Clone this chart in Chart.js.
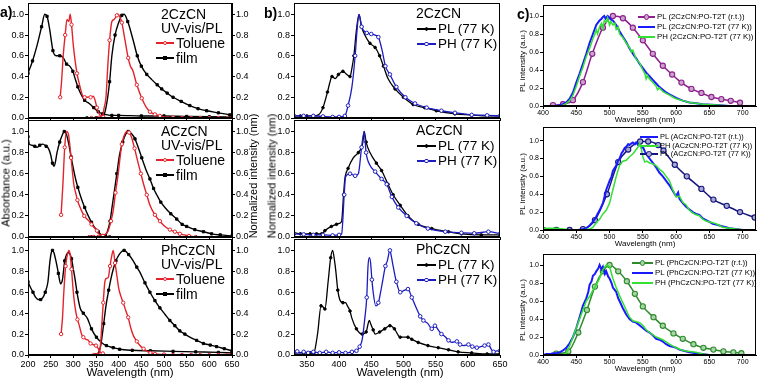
<!DOCTYPE html>
<html><head><meta charset="utf-8">
<script src="https://cdn.jsdelivr.net/npm/chart.js@4/dist/chart.umd.min.js"></script>
<style>
body{margin:0;width:760px;height:380px;position:relative;background:#fff;overflow:hidden;font-family:"Liberation Sans",Arial,sans-serif}
canvas{position:absolute}
.t{position:absolute;white-space:nowrap;color:#000;line-height:1}
.s{position:absolute}
</style></head><body>
<script>
// ---------- tick labels ----------
const X_TICKS_A = [200,250,300,350,400,450,500,550,600,650];
const X_TICKS_B = [350,400,450,500,550,600,650];
const X_TICKS_C = [400,450,500,550,600,650,700];
const Y_TICKS = [0,0.2,0.4,0.6,0.8,1.0];
const COMPOUNDS = ['2CzCN','ACzCN','PhCzCN'];

// ---------- panel a: UV-vis / PL (wavelength nm, normalized) ----------
const A_TOL_ABS_2CZ = [[271,0.2],[274,0.35],[278,0.62],[282,0.8],[286,0.95],[290,0.93],[293,1.0],[296,0.9],[300,0.7],[304,0.55],[308,0.43],[312,0.35],[316,0.28],[320,0.22],[325,0.2],[332,0.2],[338,0.2],[344,0.21],[348,0.17],[352,0.1],[356,0.05],[360,0.02],[366,0.01],[372,0.0]];
const A_TOL_PL_2CZ = [[340,0],[355,0],[364,0.01],[368,0.1],[372,0.2],[376,0.5],[380,0.75],[385,0.93],[390,0.95],[396,0.99],[399,1.0],[403,0.97],[407,0.92],[414,0.75],[421,0.58],[426,0.5],[431,0.46],[440,0.32],[451,0.19],[460,0.11],[469,0.06],[480,0.035],[491,0.02],[500,0.01],[520,0.005],[540,0],[560,0],[580,0],[600,0],[620,0],[640,0],[650,0]];
const A_FILM_ABS_2CZ = [[200,0.43],[210,0.55],[220,0.7],[230,0.88],[237,1.0],[242,0.98],[248,0.85],[255,0.65],[262,0.6],[270,0.6],[278,0.58],[285,0.52],[292,0.5],[299,0.45],[304,0.38],[310,0.3],[318,0.22],[325,0.17],[335,0.14],[345,0.1],[355,0.06],[365,0.04],[375,0.03],[385,0.025],[400,0.025],[450,0.02],[500,0.02],[550,0.015],[600,0.012],[650,0.01]];
const A_FILM_PL_2CZ = [[330,0],[350,0],[365,0.01],[372,0.1],[380,0.35],[385,0.6],[392,0.8],[400,0.92],[407,0.99],[412,1.0],[420,0.93],[432,0.75],[441,0.6],[450,0.5],[462,0.42],[473,0.37],[485,0.32],[495,0.28],[507,0.24],[520,0.2],[538,0.16],[557,0.12],[575,0.09],[594,0.07],[620,0.05],[645,0.03],[650,0.025]];

const A_TOL_ABS_AC = [[273,0.21],[277,0.5],[281,0.85],[285,1.0],[289,0.98],[292,0.88],[295,0.75],[298,0.62],[301,0.5],[305,0.42],[309,0.35],[313,0.3],[318,0.25],[324,0.2],[330,0.17],[335,0.15],[340,0.12],[346,0.09],[352,0.06],[356,0.03],[360,0.02],[365,0.01],[372,0.0]];
const A_TOL_PL_AC = [[335,0],[345,0],[355,0],[365,0.01],[372,0.03],[377,0.06],[383,0.15],[388,0.25],[393,0.42],[399,0.6],[403,0.75],[407,0.88],[412,0.96],[418,1.0],[423,0.99],[428,0.95],[435,0.84],[443,0.7],[449,0.6],[455,0.5],[462,0.4],[469,0.3],[480,0.21],[491,0.15],[502,0.1],[513,0.07],[524,0.05],[535,0.03],[545,0.02],[555,0.01],[570,0.0]];
const A_FILM_ABS_AC = [[200,0.95],[203,0.88],[208,0.87],[215,0.86],[220,0.85],[226,0.87],[233,0.88],[240,0.86],[245,0.84],[250,0.78],[254,0.7],[257,0.67],[260,0.7],[264,0.8],[270,0.9],[275,0.96],[280,1.0],[285,0.97],[290,0.88],[295,0.76],[300,0.65],[305,0.55],[310,0.47],[318,0.36],[325,0.28],[333,0.2],[340,0.14],[347,0.09],[355,0.05],[362,0.02],[370,0.01],[380,0.0]];
const A_FILM_PL_AC = [[340,0],[360,0],[370,0.01],[375,0.05],[381,0.15],[386,0.3],[391,0.45],[396,0.6],[402,0.78],[409,0.9],[415,0.97],[421,1.0],[428,0.98],[436,0.93],[443,0.85],[451,0.75],[460,0.64],[469,0.55],[477,0.46],[484,0.4],[493,0.33],[502,0.28],[515,0.22],[528,0.17],[540,0.12],[550,0.1],[568,0.07],[587,0.05],[605,0.03],[624,0.02],[650,0.01]];

const A_TOL_ABS_PH = [[273,0.2],[276,0.35],[279,0.6],[283,0.85],[287,0.96],[290,1.0],[293,0.96],[296,0.82],[300,0.6],[304,0.45],[309,0.34],[312,0.3],[315,0.25],[318,0.2],[322,0.17],[328,0.15],[333,0.14],[338,0.11],[344,0.1],[350,0.09],[355,0.06],[359,0.03],[365,0.015],[372,0.0]];
const A_TOL_PL_PH = [[345,0],[352,0],[357,0.02],[360,0.1],[363,0.3],[366,0.5],[369,0.68],[372,0.73],[377,0.74],[381,0.85],[384,0.93],[388,1.0],[392,0.88],[396,0.76],[400,0.64],[405,0.56],[410,0.5],[416,0.42],[421,0.36],[426,0.27],[432,0.19],[440,0.13],[447,0.09],[455,0.06],[461,0.04],[470,0.02],[480,0.01],[500,0.005],[520,0],[540,0],[560,0],[580,0],[600,0],[620,0],[640,0],[650,0]];
const A_FILM_ABS_PH = [[200,0.7],[205,0.65],[211,0.6],[217,0.55],[222,0.53],[228,0.53],[233,0.55],[238,0.6],[244,0.7],[248,0.88],[251,0.97],[254,1.0],[257,0.98],[260,0.93],[264,0.85],[267,0.78],[272,0.68],[276,0.72],[281,0.9],[285,0.96],[289,0.98],[293,0.96],[296,0.92],[300,0.82],[304,0.72],[308,0.6],[315,0.45],[322,0.4],[331,0.35],[340,0.25],[351,0.17],[362,0.12],[373,0.09],[388,0.07],[402,0.055],[430,0.045],[470,0.04],[520,0.035],[570,0.03],[620,0.025],[650,0.02]];
const A_FILM_PL_PH = [[350,0],[355,0.02],[360,0.08],[367,0.3],[372,0.47],[378,0.62],[383,0.73],[388,0.82],[394,0.9],[401,0.96],[412,1.0],[422,0.96],[432,0.9],[440,0.84],[447,0.79],[458,0.69],[469,0.6],[480,0.52],[491,0.45],[502,0.39],[513,0.33],[524,0.28],[535,0.23],[546,0.2],[557,0.17],[572,0.14],[587,0.11],[602,0.095],[616,0.08],[633,0.06],[650,0.04]];

// ---------- panel b: 77 K PL / PH ----------
const B_PL_2CZ = [[330,0.02],[340,0.02],[350,0.02],[360,0.02],[368,0.03],[375,0.1],[382,0.25],[386,0.35],[389,0.4],[394,0.38],[399,0.42],[406,0.45],[412,0.42],[417,0.4],[420,0.48],[423,0.6],[427,0.85],[431,1.0],[435,0.88],[440,0.8],[448,0.72],[456,0.68],[463,0.6],[469,0.5],[476,0.38],[487,0.28],[500,0.2],[515,0.13],[533,0.1],[551,0.07],[580,0.04],[606,0.03],[630,0.02],[650,0.02]];
const B_PH_2CZ = [[330,0.02],[345,0.02],[360,0.02],[375,0.015],[390,0.01],[400,0.01],[409,0.02],[414,0.12],[420,0.3],[425,0.6],[428,0.85],[431,1.0],[435,0.88],[443,0.82],[450,0.81],[456,0.8],[461,0.78],[467,0.65],[472,0.5],[479,0.42],[489,0.3],[503,0.2],[518,0.14],[536,0.1],[559,0.07],[580,0.05],[606,0.03],[630,0.025],[650,0.02]];
const B_PL_AC = [[330,0.04],[340,0.03],[355,0.03],[365,0.03],[373,0.03],[378,0.06],[388,0.1],[396,0.12],[401,0.13],[404,0.15],[407,0.4],[409,0.55],[414,0.65],[422,0.75],[430,0.8],[435,0.85],[437,0.9],[439,1.0],[442,0.9],[448,0.8],[458,0.7],[466,0.63],[476,0.5],[484,0.4],[495,0.3],[507,0.2],[523,0.12],[544,0.08],[570,0.05],[590,0.03],[621,0.02],[650,0.02]];
const B_PH_AC = [[330,0.03],[345,0.025],[360,0.02],[375,0.02],[390,0.015],[400,0.02],[404,0.03],[408,0.4],[410,0.57],[417,0.6],[425,0.58],[430,0.6],[435,0.85],[439,1.0],[442,0.8],[448,0.68],[456,0.62],[466,0.55],[474,0.5],[482,0.38],[492,0.28],[505,0.2],[520,0.13],[538,0.08],[565,0.05],[590,0.04],[610,0.035],[632,0.05],[650,0.03]];
const B_PL_PH = [[330,0.02],[345,0.02],[355,0.02],[361,0.02],[364,0.1],[367,0.22],[372,0.47],[375,0.46],[378,0.44],[383,0.7],[387,0.93],[390,1.0],[393,0.9],[395,0.8],[398,0.62],[401,0.53],[406,0.5],[410,0.5],[413,0.47],[417,0.42],[420,0.35],[427,0.25],[436,0.2],[442,0.22],[447,0.33],[449,0.3],[453,0.24],[456,0.2],[463,0.22],[471,0.25],[479,0.28],[486,0.25],[495,0.17],[507,0.17],[513,0.15],[523,0.12],[538,0.09],[554,0.07],[570,0.05],[585,0.03],[606,0.02],[630,0.01],[650,0.01]];
const B_PH_PH = [[330,0.02],[335,0.035],[340,0.02],[345,0.03],[352,0.02],[360,0.03],[370,0.02],[380,0.03],[390,0.02],[400,0.025],[410,0.02],[420,0.03],[427,0.04],[432,0.08],[436,0.15],[440,0.35],[443,0.55],[445,0.85],[447,0.93],[449,0.88],[451,0.72],[453,0.6],[457,0.47],[461,0.5],[466,0.65],[472,0.85],[475,0.9],[479,1.0],[481,0.95],[484,0.85],[489,0.7],[495,0.6],[502,0.62],[507,0.63],[513,0.55],[520,0.45],[526,0.37],[531,0.33],[538,0.3],[544,0.25],[549,0.28],[554,0.24],[559,0.2],[564,0.18],[570,0.14],[575,0.12],[583,0.13],[588,0.1],[593,0.09],[601,0.1],[607,0.08],[614,0.07],[620,0.08],[626,0.09],[632,0.1],[636,0.06],[640,0.03],[645,0.04],[650,0.04]];

// ---------- panel c: PO-T2T blends ----------
const C_RT_2CZ = [[415,0.01],[430,0.02],[445,0.065],[460,0.265],[474,0.58],[490,0.87],[505,1.0],[520,0.975],[535,0.87],[550,0.73],[565,0.58],[580,0.447],[594,0.35],[608,0.26],[623,0.19],[638,0.145],[653,0.1],[668,0.076],[682,0.058],[696,0.036]];
const C_PL77_2CZ = [[420,0.0],[425,0.01],[430,0.02],[435,0.04],[440,0.08],[445,0.15],[450,0.26],[455,0.36],[460,0.47],[465,0.58],[470,0.7],[475,0.8],[480,0.9],[485,0.95],[488,0.97],[490,0.99],[492,1.0],[494,0.97],[497,1.0],[500,0.98],[502,0.96],[505,0.95],[510,0.9],[515,0.83],[520,0.77],[525,0.71],[530,0.64],[535,0.58],[540,0.53],[545,0.47],[550,0.42],[555,0.37],[560,0.33],[565,0.29],[570,0.25],[575,0.21],[580,0.18],[585,0.15],[590,0.13],[595,0.11],[600,0.09],[610,0.06],[620,0.04],[630,0.03],[640,0.02],[660,0.01],[680,0.0],[700,0.0]];
const C_PH77_2CZ = [[425,0.0],[430,0.01],[435,0.03],[440,0.06],[445,0.12],[450,0.22],[455,0.33],[460,0.43],[465,0.55],[470,0.64],[475,0.75],[478,0.8],[480,0.85],[482,0.8],[485,0.88],[488,0.92],[490,0.86],[492,0.95],[495,0.93],[497,0.98],[500,0.9],[502,0.94],[505,0.9],[508,0.92],[510,0.85],[513,0.88],[515,0.8],[520,0.76],[525,0.7],[530,0.65],[533,0.6],[535,0.62],[540,0.52],[545,0.48],[548,0.43],[550,0.4],[553,0.36],[555,0.3],[557,0.34],[560,0.3],[565,0.26],[570,0.22],[572,0.18],[575,0.2],[580,0.16],[585,0.14],[590,0.12],[595,0.1],[600,0.08],[610,0.06],[620,0.04],[630,0.03],[640,0.02],[660,0.01],[680,0.0]];

const C_BLUE_AC = [[440,0.0],[455,0.0],[460,0.01],[465,0.02],[470,0.05],[475,0.09],[480,0.15],[485,0.22],[490,0.3],[495,0.45],[500,0.55],[503,0.6],[505,0.66],[510,0.72],[513,0.78],[515,0.8],[518,0.86],[520,0.88],[523,0.92],[525,0.93],[528,0.96],[530,0.95],[533,0.97],[535,0.98],[538,0.96],[540,0.98],[543,0.95],[545,0.96],[548,0.92],[550,0.93],[553,0.88],[555,0.85],[558,0.82],[560,0.8],[565,0.75],[570,0.7],[575,0.64],[580,0.6],[585,0.55],[590,0.5],[595,0.44],[598,0.4],[600,0.38],[603,0.42],[605,0.35],[610,0.3],[615,0.26],[620,0.23],[625,0.2],[630,0.18],[635,0.17],[640,0.13],[645,0.11],[650,0.09],[655,0.07],[660,0.06],[665,0.05],[670,0.04],[675,0.03],[680,0.02],[690,0.01],[700,0.0]];
const C_GREEN_AC = [[400,0.02],[410,0.02],[420,0.02],[430,0.01],[440,0.0],[460,0.0],[470,0.01],[475,0.03],[480,0.08],[485,0.12],[490,0.18],[495,0.22],[500,0.3],[505,0.45],[510,0.6],[515,0.72],[520,0.77],[525,0.78],[530,0.82],[535,0.85],[540,0.9],[543,0.93],[545,0.97],[548,0.9],[550,0.82],[553,0.76],[556,0.77],[560,0.75],[565,0.74],[570,0.72],[575,0.68],[580,0.65],[585,0.6],[590,0.55],[595,0.45],[600,0.37],[605,0.38],[610,0.31],[615,0.28],[620,0.22],[625,0.19],[630,0.17],[635,0.16],[640,0.12],[645,0.1],[650,0.09],[655,0.08],[660,0.07],[665,0.05],[670,0.03],[680,0.02],[690,0.01],[700,0.0]];
const C_NAVY_AC = [[400,0.0],[420,0.0],[440,0.0],[460,0.01],[478,0.11],[496,0.4],[513,0.76],[528,0.9],[546,0.99],[558,0.99],[573,0.95],[581,0.89],[598,0.73],[616,0.6],[638,0.46],[656,0.34],[676,0.27],[696,0.2],[718,0.14]];

const C_RT_PH = [[420,0.015],[438,0.04],[453,0.25],[466,0.5],[478,0.76],[490,0.93],[500,1.0],[513,0.93],[526,0.82],[538,0.68],[550,0.54],[566,0.42],[580,0.325],[596,0.24],[610,0.18],[626,0.12],[641,0.08],[656,0.06],[671,0.04],[686,0.03],[698,0.02]];
const C_BLUE_PH = [[400,0.0],[405,0.01],[410,0.01],[415,0.02],[420,0.02],[425,0.03],[430,0.05],[435,0.08],[440,0.13],[445,0.2],[450,0.3],[455,0.42],[460,0.55],[465,0.63],[468,0.7],[470,0.78],[473,0.82],[475,0.88],[478,0.9],[480,0.93],[483,0.96],[485,1.0],[488,0.95],[490,0.98],[493,0.9],[495,0.93],[498,0.87],[500,0.85],[503,0.8],[505,0.75],[508,0.72],[510,0.7],[513,0.63],[515,0.6],[520,0.52],[525,0.45],[530,0.4],[535,0.37],[540,0.36],[545,0.33],[550,0.3],[555,0.27],[560,0.25],[565,0.22],[570,0.18],[575,0.17],[580,0.15],[585,0.12],[590,0.1],[595,0.09],[600,0.08],[605,0.06],[610,0.05],[620,0.03],[630,0.02],[640,0.01],[650,0.0]];
const C_GREEN_PH = [[430,0.0],[435,0.02],[440,0.1],[445,0.2],[450,0.3],[455,0.4],[460,0.5],[465,0.6],[470,0.65],[475,0.72],[480,0.78],[485,0.85],[490,0.95],[495,1.0],[500,0.98],[505,0.85],[510,0.75],[515,0.66],[520,0.58],[525,0.5],[530,0.42],[535,0.38],[540,0.37],[545,0.36],[550,0.33],[555,0.28],[560,0.25],[570,0.2],[580,0.17],[590,0.12],[600,0.08],[610,0.05],[620,0.04],[630,0.03],[640,0.01],[650,0.0]];

// ---------- styling / helpers ----------
const FONT = '"Liberation Sans", Arial, sans-serif';
const RED = '#e3232b', BLUE_B = '#1c1cc0', PURPLE = '#8e1f8e', NAVY = '#16167e', DGREEN = '#2e8b2e', BLUE_C = '#1a1aff', LIME = '#33e033';

const framePlugin = {id:'frame', afterDraw(ch){const a=ch.chartArea, x=ch.ctx; x.save(); x.strokeStyle='#000'; x.lineWidth=1;
  x.strokeRect(Math.round(a.left)+0.5, Math.round(a.top)+0.5, Math.round(a.right-a.left)-1, Math.round(a.bottom-a.top)-1); x.restore();}};

function pts(a){return a.map(p=>({x:p[0],y:p[1]}));}
function radiusFn(m){
  return ctx=>{
    if(!m) return 0;
    if(!m.step || ctx.dataIndex===undefined) return m.r;
    const d=ctx.dataset.data, i=ctx.dataIndex;
    if(i===0) return m.r;
    return Math.floor(d[i].x/m.step)!==Math.floor(d[i-1].x/m.step) ? m.r : 0;
  };
}
function ds(arr,color,lw,m,extra){
  return Object.assign({data:pts(arr),borderColor:color,borderWidth:lw,fill:false,
    cubicInterpolationMode:'monotone',
    pointStyle:m?m.style:'circle',pointRadius:radiusFn(m),pointHoverRadius:0,
    pointBackgroundColor:m?m.fill:color,pointBorderColor:color,pointBorderWidth:m?(m.bw||1):0},extra||{});
}
function axis(ticks,fs,show,fmt,pad){
  return {type:'linear',
    afterBuildTicks:s=>{s.ticks=ticks.map(v=>({value:v}));},
    grid:{drawOnChartArea:false,drawTicks:true,tickLength:3,color:'#000',lineWidth:1},
    border:{display:true,color:'#000',width:1},
    ticks:{display:show,font:{family:FONT,size:fs},color:'#000',padding:pad,maxRotation:0,autoSkip:false,callback:fmt}};
}
function makeChart(o){
  const c=document.createElement('canvas');
  const W=o.R-o.L+o.ml+o.mr, H=o.B-o.T+o.mt+o.mb;
  c.width=W; c.height=H;
  c.style.left=(o.L-o.ml)+'px'; c.style.top=(o.T-o.mt)+'px'; c.style.width=W+'px'; c.style.height=H+'px';
  document.body.appendChild(c);
  const yf=v=>v.toFixed(1), xf=v=>String(v);
  const scales={
    x:Object.assign(axis(o.xt,o.fs,o.xl,xf,o.xpad),{min:o.xmin,max:o.xmax,afterFit:s=>{s.height=o.mb;}}),
    y:Object.assign(axis(Y_TICKS,o.fs,true,yf,1),{min:0,max:o.ymax,afterFit:s=>{s.width=o.ml;}})
  };
  if(o.right){scales.y2=Object.assign(axis(Y_TICKS,o.fs,true,yf,1),{position:'right',min:0,max:o.ymax,afterFit:s=>{s.width=o.mr;}});}
  new Chart(c,{type:'line',data:{datasets:o.ds},
    options:{responsive:false,animation:false,events:[],devicePixelRatio:1,
      layout:{padding:{left:0,top:o.mt,right:o.right?0:o.mr,bottom:0}},
      plugins:{legend:{display:false},tooltip:{enabled:false}},scales},
    plugins:[framePlugin]});
}
function txt(s,x,yc,size,extra){
  const d=document.createElement('div'); d.className='t'; d.textContent=s;
  d.style.fontSize=size+'px'; d.style.left=x+'px'; d.style.top=(yc-0.49*size)+'px';
  if(extra) Object.assign(d.style,extra);
  document.body.appendChild(d); return d;
}
function ctxt(s,xc,yc,size){
  const d=txt(s,xc,yc,size); d.style.top=yc+'px'; d.style.transform='translate(-50%,-50%)'; return d;
}
function vtxt(s,xc,yc,size){
  const d=txt(s,xc,yc,size); d.style.top=yc+'px'; d.style.transform='translate(-50%,-50%) rotate(-90deg)'; return d;
}
function sample(x1,x2,yc,color,lw,m){
  const l=document.createElement('div'); l.className='s';
  Object.assign(l.style,{left:x1+'px',top:(yc-lw/2)+'px',width:(x2-x1)+'px',height:lw+'px',background:color});
  document.body.appendChild(l);
  if(m){
    const k=document.createElement('div'); k.className='s'; const r=m.r;
    Object.assign(k.style,{left:((x1+x2)/2-r-0.5)+'px',top:(yc-r-0.5)+'px',width:(2*r+1)+'px',height:(2*r+1)+'px',
      background:m.fill,border:'1px solid '+color,borderRadius:m.style==='rect'?'0':'50%',boxSizing:'border-box'});
    document.body.appendChild(k);
  }
}

// markers
const M_TOL = {style:'circle',r:1.7,fill:'#fff',step:14};
const M_FILM = {style:'rect',r:1.6,fill:'#000',step:14};
const M_BPL = {style:'circle',r:1.3,fill:'#000',step:9};
const M_BPH = {style:'circle',r:1.8,fill:'#fff',step:9};
const M_RT2 = {style:'circle',r:2.6,fill:'#c9a3c9',bw:1.1};
const M_RTA = {style:'circle',r:2.6,fill:'#a6a8cf',bw:1.1};
const M_RTP = {style:'circle',r:2.6,fill:'#a8d4a8',bw:1.1};

// ---------- panel a ----------
const A_SETS = [
  [A_TOL_ABS_2CZ,A_TOL_PL_2CZ,A_FILM_ABS_2CZ,A_FILM_PL_2CZ],
  [A_TOL_ABS_AC,A_TOL_PL_AC,A_FILM_ABS_AC,A_FILM_PL_AC],
  [A_TOL_ABS_PH,A_TOL_PL_PH,A_FILM_ABS_PH,A_FILM_PL_PH]];
const A_ROWS = [[1,118],[118,237],[237,355]];
A_SETS.forEach((s,i)=>{
  makeChart({L:28,R:232,T:A_ROWS[i][0],B:A_ROWS[i][1],ml:30,mr:30,mt:4,mb:20,fs:9,xpad:1,right:true,
    xmin:200,xmax:650,xt:X_TICKS_A,xl:i===2,ymax:1.105,
    ds:[ds(s[0],RED,1.4,M_TOL),ds(s[1],RED,1.4,M_TOL,{yAxisID:'y2'}),ds(s[2],'#000',1.4,M_FILM),ds(s[3],'#000',1.4,M_FILM,{yAxisID:'y2'})]});
  const t=A_ROWS[i][0];
  txt(COMPOUNDS[i],161,t+13,14); txt('UV-vis/PL',161,t+27,14);
  sample(156,174,t+42,RED,1.5,M_TOL); txt('Toluene',176,t+42,14);
  sample(156,174,t+57,'#000',1.5,M_FILM); txt('film',176,t+57,14);
});
// ---------- panel b ----------
const B_SETS = [[B_PL_2CZ,B_PH_2CZ],[B_PL_AC,B_PH_AC],[B_PL_PH,B_PH_PH]];
B_SETS.forEach((s,i)=>{
  makeChart({L:294,R:500,T:A_ROWS[i][0],B:A_ROWS[i][1],ml:30,mr:12,mt:4,mb:20,fs:9,xpad:1,right:false,
    xmin:330,xmax:650,xt:X_TICKS_B,xl:i===2,ymax:1.105,
    ds:[ds(s[1],BLUE_B,1.3,M_BPH),ds(s[0],'#000',1.3,M_BPL)]});
  const t=A_ROWS[i][0];
  txt(COMPOUNDS[i],416,t+12,14);
  sample(417,436,t+28,'#000',1.5,M_BPL); txt('PL (77 K)',438,t+28,13.5);
  sample(417,436,t+43,BLUE_B,1.5,M_BPH); txt('PH (77 K)',438,t+43,13.5);
});
// ---------- panel c ----------
const C_ROWS = [[3,106,1.12],[125,230,1.15],[252,355,1.12]];
const NOSMOOTH = {cubicInterpolationMode:'default',tension:0};
const C_SETS = [
  {ds:[ds(C_PH77_2CZ,LIME,1.5,null,NOSMOOTH),ds(C_PL77_2CZ,BLUE_C,2,null,NOSMOOTH),ds(C_RT_2CZ,PURPLE,1.5,M_RT2)],
   leg:[[PURPLE,M_RT2,'PL (2CzCN:PO-T2T (r.t.))'],[BLUE_C,null,'PL (2CzCN:PO-T2T (77 K))'],[LIME,null,'PH (2CzCN:PO-T2T (77 K))']],lx:[638,655,657],ly:[14,24,34],fs:7.8},
  {ds:[ds(C_GREEN_AC,LIME,1.5,null,NOSMOOTH),ds(C_BLUE_AC,BLUE_C,2,null,NOSMOOTH),ds(C_NAVY_AC,NAVY,1.5,M_RTA)],
   leg:[[BLUE_C,null,'PL (ACzCN:PO-T2T (r.t.))'],[LIME,null,'PH (ACzCN:PO-T2T (77 K))'],[NAVY,M_RTA,'PL (ACzCN:PO-T2T (77 K))']],lx:[640,658,660],ly:[12,21,29],fs:7.4},
  {ds:[ds(C_GREEN_PH,LIME,1.5,null,NOSMOOTH),ds(C_BLUE_PH,BLUE_C,2,null,NOSMOOTH),ds(C_RT_PH,DGREEN,1.5,M_RTP)],
   leg:[[DGREEN,M_RTP,'PL (PhCzCN:PO-T2T (r.t.))'],[BLUE_C,null,'PL (PhCzCN:PO-T2T (77 K))'],[LIME,null,'PH (PhCzCN:PO-T2T (77 K))']],lx:[632,653,655],ly:[11,21,31],fs:7.8}];
const C_TITLE_Y = [120,244,369];
C_SETS.forEach((s,i)=>{
  const r=C_ROWS[i];
  makeChart({L:543,R:756,T:r[0],B:r[1],ml:22,mr:4,mt:3,mb:14,fs:7,xpad:0,right:false,
    xmin:400,xmax:720,xt:X_TICKS_C,xl:true,ymax:r[2],ds:s.ds});
  s.leg.forEach((l,j)=>{
    const y=r[0]+s.ly[j];
    sample(s.lx[0],s.lx[1],y,l[0],l[1]?1.5:2,l[1]?Object.assign({},l[1],{r:2.3}):null);
    txt(l[2],s.lx[2],y,s.fs);
  });
  ctxt('Wavelength (nm)',645,C_TITLE_Y[i],8);
  vtxt('PL intensity (a.u.)',523,(r[0]+r[1])/2+6,8);
});

// ---------- titles ----------
txt('a)',0,12,14,{fontWeight:'bold'});
txt('b)',264,13,14,{fontWeight:'bold'});
txt('c)',517,14,14,{fontWeight:'bold'});
vtxt('Absorbance (a.u.)',6,183,11);
vtxt('Normalized intensity (nm)',253,176,11);
vtxt('Normalized intensity (nm)',272,176,11);
ctxt('Wavelength (nm)',130,373,11.5);
ctxt('Wavelength (nm)',400,373,11.5);
</script>
</body></html>
